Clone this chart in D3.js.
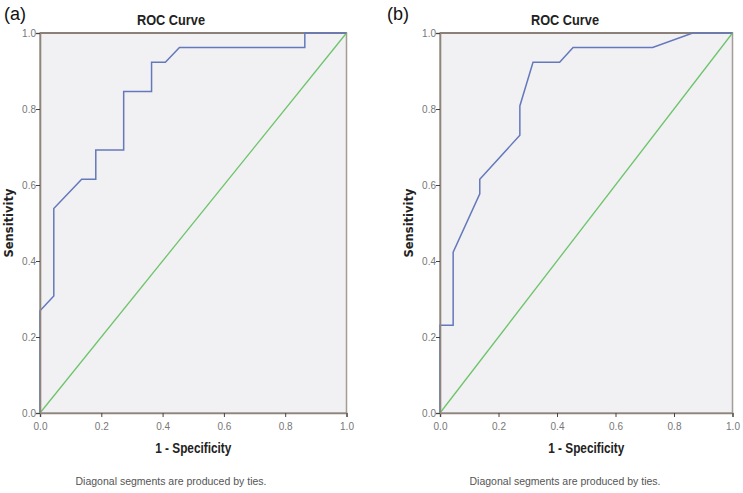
<!DOCTYPE html>
<html>
<head>
<meta charset="utf-8">
<script src="https://cdn.jsdelivr.net/npm/d3@7"></script>
<style>
  body { margin: 0; background: #fff; }
  svg { display: block; }
</style>
</head>
<body>
<script>
'use strict'

var width = 743
var height = 493

// ROC points, panel (a): 1 - specificity / sensitivity
var fprA = [0, 0, 0.045, 0.045, 0.136, 0.182, 0.182, 0.273, 0.273, 0.364, 0.364, 0.409, 0.455, 0.864, 0.864, 1]
var tprA = [0, 0.269, 0.308, 0.538, 0.615, 0.615, 0.692, 0.692, 0.846, 0.846, 0.923, 0.923, 0.962, 0.962, 1, 1]

// ROC points, panel (b)
var fprB = [0, 0, 0.045, 0.045, 0.136, 0.136, 0.273, 0.273, 0.318, 0.409, 0.455, 0.727, 0.864, 1]
var tprB = [0, 0.231, 0.231, 0.423, 0.577, 0.615, 0.731, 0.808, 0.923, 0.923, 0.962, 0.962, 1, 1]

var ticks = [0, 0.2, 0.4, 0.6, 0.8, 1.0]
var refLine = [0, 1]

var panels = [
  { tag: "(a)", fpr: fprA, tpr: tprA, left: 40, right: 346.5, tagX: 4, textMid: 171 },
  { tag: "(b)", fpr: fprB, tpr: tprB, left: 440, right: 732.5, tagX: 387, textMid: 565 }
]
var plotTop = 33, plotBottom = 413

var svg = d3.select("body").append("svg")
  .attr("width", width)
  .attr("height", height)

panels.forEach(drawPanel)

function drawPanel(p) {
  var x = d3.scaleLinear().domain([0, 1]).range([p.left, p.right])
  var y = d3.scaleLinear().domain([0, 1]).range([plotBottom, plotTop])
  var g = svg.append("g")
  var mid = (p.left + p.right) / 2

  g.append("rect")
    .attr("x", p.left).attr("y", plotTop)
    .attr("width", p.right - p.left).attr("height", plotBottom - plotTop)
    .attr("fill", "#f1f0f3")
    .attr("stroke", "#a59c95")
    .attr("stroke-width", 1.5)
  g.append("line")
    .attr("x1", p.left).attr("x2", p.right)
    .attr("y1", plotTop).attr("y2", plotTop)
    .attr("stroke", "#7d7168").attr("stroke-width", 1.5)

  g.append("line")
    .attr("x1", x(refLine[0])).attr("y1", y(refLine[0]))
    .attr("x2", x(refLine[1])).attr("y2", y(refLine[1]))
    .attr("stroke", "#6cc46a").attr("stroke-width", 1.3)

  var line = d3.line()
    .x(function (d, i) { return x(p.fpr[i]) })
    .y(function (d, i) { return y(p.tpr[i]) })
  g.append("path")
    .attr("d", line(p.fpr))
    .attr("fill", "none")
    .attr("stroke", "#6479bb")
    .attr("stroke-width", 1.5)

  // axes go on top so the curve's first leg hides under the y axis
  var xAxis = g.append("g")
    .attr("transform", "translate(0," + plotBottom + ")")
    .call(d3.axisBottom(x).tickValues(ticks).tickFormat(d3.format(".1f")).tickSize(4))
  var yAxis = g.append("g")
    .attr("transform", "translate(" + p.left + ",0)")
    .call(d3.axisLeft(y).tickValues(ticks).tickFormat(d3.format(".1f")).tickSize(4))
  ;[xAxis, yAxis].forEach(function (a) {
    a.select(".domain").attr("stroke", "#8f857d").attr("stroke-width", 1.6)
    a.selectAll(".tick line").attr("stroke", "#444")
    a.selectAll(".tick text")
      .attr("fill", "#777")
      .style("font-family", "Liberation Sans, Arial, sans-serif")
      .style("font-size", "10px")
  })
  xAxis.selectAll(".tick text").attr("dy", "1em")
  yAxis.selectAll(".tick text").attr("x", -4).attr("dy", "0.32em")

  g.append("text")
    .attr("x", p.tagX).attr("y", 20)
    .style("font-family", "Liberation Sans, Arial, sans-serif")
    .style("font-size", "18px")
    .attr("fill", "#111")
    .text(p.tag)

  g.append("text")
    .attr("x", p.textMid).attr("y", 25)
    .attr("text-anchor", "middle")
    .attr("textLength", 68)
    .attr("lengthAdjust", "spacingAndGlyphs")
    .style("font-family", "Liberation Sans, Arial, sans-serif")
    .style("font-size", "14px")
    .style("font-weight", "bold")
    .attr("fill", "#222")
    .text("ROC Curve")

  g.append("text")
    .attr("transform", "translate(" + (p.left - 27) + "," + ((plotTop + plotBottom) / 2) + ") rotate(-90)")
    .attr("text-anchor", "middle")
    .style("font-family", "DejaVu Sans, sans-serif")
    .style("font-size", "11.5px")
    .style("font-weight", "bold")
    .attr("fill", "#222")
    .text("Sensitivity")

  g.append("text")
    .attr("x", mid).attr("y", 453)
    .attr("text-anchor", "middle")
    .attr("textLength", 76)
    .attr("lengthAdjust", "spacingAndGlyphs")
    .style("font-family", "Liberation Sans, Arial, sans-serif")
    .style("font-size", "14px")
    .style("font-weight", "bold")
    .attr("fill", "#222")
    .text("1 - Specificity")

  g.append("text")
    .attr("x", p.textMid).attr("y", 485)
    .attr("text-anchor", "middle")
    .attr("textLength", 191)
    .attr("lengthAdjust", "spacingAndGlyphs")
    .style("font-family", "Liberation Sans, Arial, sans-serif")
    .style("font-size", "11.5px")
    .attr("fill", "#555")
    .text("Diagonal segments are produced by ties.")
}
</script>
</body>
</html>
